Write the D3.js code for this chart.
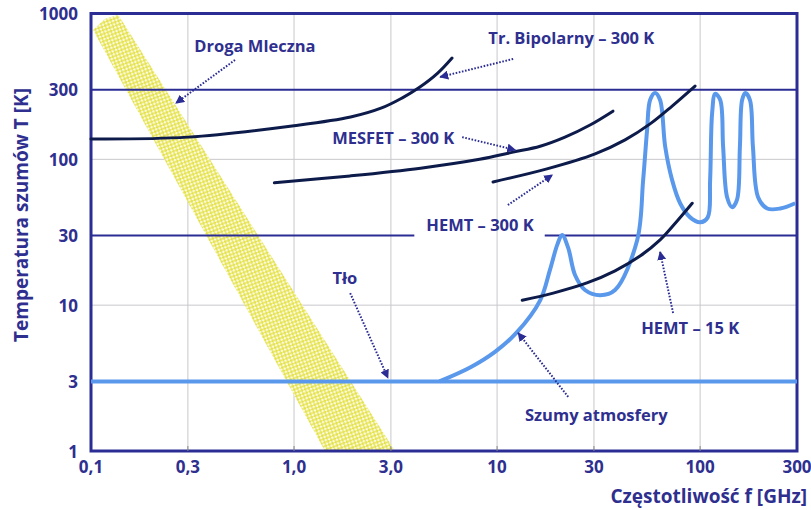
<!DOCTYPE html>
<html>
<head>
<meta charset="utf-8">
<script src="https://cdn.jsdelivr.net/npm/d3@7"></script>
<style>
  body { margin: 0; background: #fff; }
  text { font-family: "Open Sans", Lato, sans-serif; font-weight: 700; fill: #2e2f8f; }
</style>
</head>
<body>
<div id="chart"></div>
<script>
// axes
const xTicks = [0.1, 0.3, 1, 3, 10, 30, 100, 300];
const xTickLabels = ["0,1", "0,3", "1,0", "3,0", "10", "30", "100", "300"];
const yTicks = [1, 3, 10, 30, 100, 300, 1000];
const yThinGrid = [10, 100];
const yHeavyGrid = [30, 300];
const backgroundT = 3;

// Droga Mleczna band (f, T) corners
const milkyF = [0.1023, 0.117, 0.136, 3.14, 1.42];
const milkyT = [771, 917, 980, 1, 1];

// transistors
const bipolarF = [0.1, 0.3, 1, 1.9, 2.7, 3.4, 4.1, 5.1, 6.0];
const bipolarT = [138, 142, 170, 195, 225, 263, 308, 390, 495];
const mesfetF = [0.8, 1.89, 4.2, 8.2, 12, 16.3, 21.6, 28.7, 37.2];
const mesfetT = [69, 77, 87, 100, 112, 123, 142, 172, 214];
const hemt300F = [9.55, 17.6, 30.4, 42.7, 56.7, 72.8, 94.4];
const hemt300T = [70, 86, 109, 136, 175, 232, 318];
const hemt15F = [13.3, 18.9, 27.7, 38.1, 50.6, 63.5, 77.1, 91.4];
const hemt15T = [10.8, 12.1, 14.2, 17.2, 21.7, 28, 37.8, 50];

// atmosphere
const atmF = [5.2, 7.4, 9.8, 12.5, 16.3, 18.2, 19.8, 20.9, 22.4, 24.2, 27.1, 32.2, 38.1,
  49, 52.4, 54.8, 56.7, 60, 63.5, 67.3, 72.8, 79.7, 89.3, 100, 109, 112, 114.6, 118.6,
  125.6, 129.8, 135.8, 143.8, 152, 157, 161, 167, 176, 182, 193, 214, 248, 294];
const atmT = [3, 3.75, 4.8, 6.5, 10.8, 17.4, 26, 30.3, 24.7, 16.1, 12.7, 11.7, 12.7,
  28, 72, 159, 255, 285, 255, 122, 72, 50, 40, 37, 40, 72, 208, 281,
  255, 122, 55, 47, 53, 122, 255, 285, 255, 122, 55, 46, 46, 50];

// annotations: label position and arrow from -> to, all in (f, T)
const notes = [
  { text: "Droga Mleczna", f: 0.642, t: 608, f1: 0.512, t1: 480, f2: 0.262, t2: 243 },
  { text: "Tr. Bipolarny – 300 K", f: 23.2, t: 690, f1: 12.0, t1: 488, f2: 5.24, t2: 367 },
  { text: "MESFET – 300 K", f: 3.08, t: 142, f1: 6.73, t1: 142, f2: 12.3, t2: 116 },
  { text: "HEMT – 300 K", f: 8.24, t: 35.5, f1: 11.3, t1: 48.6, f2: 18.7, t2: 78.1 },
  { text: "Tło", f: 1.78, t: 15.6, f1: 1.89, t1: 12.1, f2: 2.9, t2: 3.17 },
  { text: "HEMT – 15 K", f: 89.3, t: 7.0, f1: 73.6, t1: 8.84, f2: 63.5, t2: 23.2 },
  { text: "Szumy atmosfery", f: 30.8, t: 1.77, f1: 22.4, t1: 2.35, f2: 12.7, t2: 6.45 }
];

const width = 811, height = 510;
const margin = { top: 13.5, right: 14, bottom: 59, left: 91 };

const navy = "#2b2d94";
const curveColor = "#0d1b4b";
const lightBlue = "#5a98ec";

const svg = d3.select("#chart")
  .append("svg")
  .attr("width", width)
  .attr("height", height);

render();

function render() {
  const x = d3.scaleLog()
    .domain([0.1, 300])
    .range([margin.left, width - margin.right]);
  const y = d3.scaleLog()
    .domain([1, 1000])
    .range([height - margin.bottom, margin.top]);

  const defs = svg.append("defs");
  const pat = defs.append("pattern")
    .attr("id", "stipple")
    .attr("patternUnits", "userSpaceOnUse")
    .attr("patternTransform", "rotate(25)")
    .attr("width", 5)
    .attr("height", 5);
  pat.append("rect").attr("width", 5).attr("height", 5).attr("fill", "#e4e14a");
  pat.append("circle").attr("cx", 1.25).attr("cy", 1.25).attr("r", 1.35).attr("fill", "#fcfbdc");
  pat.append("circle").attr("cx", 3.75).attr("cy", 3.75).attr("r", 1.35).attr("fill", "#fcfbdc");

  defs.append("marker")
    .attr("id", "arrow")
    .attr("viewBox", "0 0 10 10")
    .attr("refX", 9).attr("refY", 5)
    .attr("markerWidth", 9).attr("markerHeight", 9)
    .attr("markerUnits", "userSpaceOnUse")
    .attr("orient", "auto")
    .append("path")
      .attr("d", "M0,0 L10,5 L0,10 Z")
      .attr("fill", navy);

  // thin grid
  const grid = svg.append("g").attr("class", "grid");
  grid.selectAll(".vgrid")
    .data(xTicks.slice(1, -1))
    .join("line")
      .attr("class", "vgrid")
      .attr("x1", d => x(d)).attr("x2", d => x(d))
      .attr("y1", y(1000)).attr("y2", y(1))
      .attr("stroke", "#c8c8cc")
      .attr("stroke-width", 1);
  grid.selectAll(".hgrid")
    .data(yThinGrid)
    .join("line")
      .attr("class", "hgrid")
      .attr("x1", x(0.1)).attr("x2", x(300))
      .attr("y1", d => y(d)).attr("y2", d => y(d))
      .attr("stroke", "#c8c8cc")
      .attr("stroke-width", 1);

  // milky way band
  svg.append("path")
    .datum(milkyF.map((f, i) => [f, milkyT[i]]))
      .attr("fill", "url(#stipple)")
      .attr("d", d3.line().x(d => x(d[0])).y(d => y(d[1])).curve(d3.curveLinearClosed));

  // annotation labels (before heavy grid, so the 30 K line can leave a gap)
  const labels = svg.append("g")
    .selectAll("text")
    .data(notes)
    .join("text")
      .attr("x", d => x(d.f))
      .attr("y", d => y(d.t))
      .attr("text-anchor", "middle")
      .attr("dominant-baseline", "central")
      .attr("font-size", 16.5)
      .text(d => d.text);

  const hemtBox = labels.filter(d => d.text === "HEMT – 300 K").node().getBBox();

  // heavy grid lines
  yHeavyGrid.forEach(v => {
    const segs = v === 30
      ? [[x(0.1), hemtBox.x - 12], [hemtBox.x + hemtBox.width + 11, x(300)]]
      : [[x(0.1), x(300)]];
    svg.append("g").selectAll("line")
      .data(segs)
      .join("line")
        .attr("x1", d => d[0]).attr("x2", d => d[1])
        .attr("y1", y(v)).attr("y2", y(v))
        .attr("stroke", navy)
        .attr("stroke-width", 2);
  });

  // plot frame
  svg.append("rect")
    .attr("x", x(0.1)).attr("y", y(1000))
    .attr("width", x(300) - x(0.1))
    .attr("height", y(1) - y(1000))
    .attr("fill", "none")
    .attr("stroke", navy)
    .attr("stroke-width", 3);

  // bottom tick marks
  svg.append("g").selectAll("line")
    .data(xTicks.slice(1, -1))
    .join("line")
      .attr("x1", d => x(d)).attr("x2", d => x(d))
      .attr("y1", y(1)).attr("y2", y(1) - 5)
      .attr("stroke", "#888")
      .attr("stroke-width", 1);

  const line = d3.line()
    .x(d => x(d[0]))
    .y(d => y(d[1]))
    .curve(d3.curveCatmullRom.alpha(0.5));

  // background 3 K and atmosphere
  svg.append("line")
    .attr("x1", x(0.1)).attr("x2", x(300))
    .attr("y1", y(backgroundT)).attr("y2", y(backgroundT))
    .attr("stroke", lightBlue)
    .attr("stroke-width", 4);

  svg.append("path")
    .datum(atmF.map((f, i) => [f, atmT[i]]))
      .attr("fill", "none")
      .attr("stroke", lightBlue)
      .attr("stroke-width", 4)
      .attr("stroke-linejoin", "round")
      .attr("d", line);

  // transistor curves
  const devices = [
    [bipolarF, bipolarT],
    [mesfetF, mesfetT],
    [hemt300F, hemt300T],
    [hemt15F, hemt15T]
  ];
  svg.append("g").selectAll("path")
    .data(devices.map(([fs, ts]) => fs.map((f, i) => [f, ts[i]])))
    .join("path")
      .attr("fill", "none")
      .attr("stroke", curveColor)
      .attr("stroke-width", 3)
      .attr("stroke-linecap", "round")
      .attr("d", line);

  // arrows
  svg.append("g").selectAll("line")
    .data(notes)
    .join("line")
      .attr("x1", d => x(d.f1)).attr("y1", d => y(d.t1))
      .attr("x2", d => x(d.f2)).attr("y2", d => y(d.t2))
      .attr("stroke", navy)
      .attr("stroke-width", 2)
      .attr("stroke-dasharray", "1.6,1.6")
      .attr("marker-end", "url(#arrow)");

  // tick labels
  svg.append("g").selectAll("text")
    .data(yTicks)
    .join("text")
      .attr("x", 78)
      .attr("y", d => y(d))
      .attr("text-anchor", "end")
      .attr("dominant-baseline", "central")
      .attr("font-size", 17)
      .text(d => d);

  svg.append("g").selectAll("text")
    .data(xTicks)
    .join("text")
      .attr("x", d => x(d))
      .attr("y", 466)
      .attr("text-anchor", "middle")
      .attr("dominant-baseline", "central")
      .attr("font-size", 17)
      .text((d, i) => xTickLabels[i]);

  // axis titles
  svg.append("text")
    .attr("transform", `translate(21 ${215}) rotate(-90)`)
    .attr("text-anchor", "middle")
    .attr("dominant-baseline", "central")
    .attr("font-size", 19)
    .text("Temperatura szumów T [K]");

  svg.append("text")
    .attr("x", 807)
    .attr("y", 496)
    .attr("text-anchor", "end")
    .attr("dominant-baseline", "central")
    .attr("font-size", 19)
    .text("Częstotliwość f [GHz]");
}
</script>
</body>
</html>
